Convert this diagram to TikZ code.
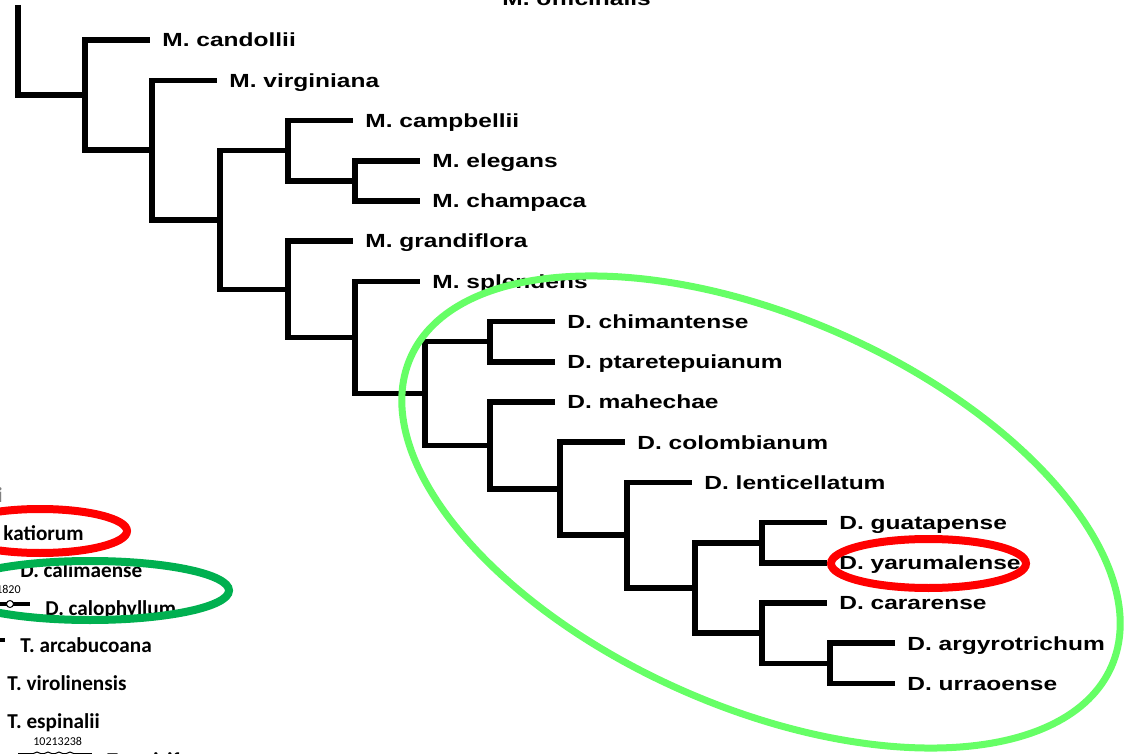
\documentclass[tikz,border=0pt]{standalone}
\usepackage{fontspec}
\newfontfamily\taxfont[FakeStretch=1.29]{Liberation Sans}
\newfontfamily\calfont{Carlito}
\usepackage{tikz}
\usetikzlibrary{positioning}
\definecolor{cladegreen}{HTML}{66FF66}
\definecolor{ovalgreen}{HTML}{00B050}

\begin{document}
\begin{tikzpicture}[
    x=0.5pt, y=-0.5pt,
    branch/.style={
		line width=2.8pt,
		draw=black
	},
    taxon/.style={
		anchor=west,
		inner sep=0pt,
		text height=6.8pt,
		text depth=0pt,
		font=\taxfont\bfseries\fontsize{9.5}{11}\selectfont
	},
    oldtaxon/.style={
		anchor=base west,
		inner sep=0pt,
		font=\calfont\bfseries\fontsize{10.6}{12}\selectfont
	},
    support/.style={
		inner sep=0pt,
		font=\calfont\fontsize{6}{7}\selectfont
	},
    oldbranch/.style={
		line width=2pt,
		draw=black
	},
    tick/.style={
		circle,
		draw=black,
		fill=white,
		line width=0.5pt,
		inner sep=0pt,
		minimum size=3.5pt
	},
    ring/.style={
		line width=4pt
	}
  ]
  \useasboundingbox (0,0) rectangle (1130,754);
  \clip (0,0) rectangle (1130,754);

  % We start by placing the inner nodes of the tree
  \coordinate (rootTop) at (18,5);
  \coordinate (nA) at (85,95.1);
  \coordinate (nB) at (152,150.2);
  \coordinate (nC) at (220,220);
  \coordinate (nCam) at (288,150.7);
  \coordinate (nEle) at (355,180.9);
  \coordinate (nGra) at (288,289.4);
  \coordinate (nSpl) at (355,337.5);
  \coordinate (nD) at (425,393.5);
  \coordinate (nChi) at (490,341.7);
  \coordinate (nMah) at (490,445.3);
  \coordinate (nCol) at (560,488.7);
  \coordinate (nLen) at (627,535.2);
  \coordinate (nG) at (695,587.9);
  \coordinate (nGua) at (762,542.7);
  \coordinate (nCar) at (762,633.1);
  \coordinate (nArg) at (830,663.3);

  % the leaves
  \node [taxon] (officinalis) at (502,-1) {M. officinalis};
  \begin{scope}
  \clip (0,0) rectangle (1106,754);
  \node [taxon] (candollii) at (162,40.2) {M. candollii};
  \node [taxon] (virginiana) at (229,80.4) {M. virginiana};
  \node [taxon] (campbellii) at (365,120.6) {M. campbellii};
  \node [taxon] (elegans) at (432,160.8) {M. elegans};
  \node [taxon] (champaca) at (432,201) {M. champaca};
  \node [taxon] (grandiflora) at (365,241.2) {M. grandiflora};
  \node [taxon] (splendens) at (432,281.4) {M. splendens};
  \node [taxon] (chimantense) at (567,321.6) {D. chimantense};
  \node [taxon] (ptaretepuianum) at (567,361.8) {D. ptaretepuianum};
  \node [taxon] (mahechae) at (567,402) {D. mahechae};
  \node [taxon] (colombianum) at (637,442.2) {D. colombianum};
  \node [taxon] (lenticellatum) at (704,482.4) {D. lenticellatum};
  \node [taxon] (guatapense) at (839,522.6) {D. guatapense};
  \node [taxon] (yarumalense) at (839,562.8) {D. yarumalense};
  \node [taxon] (cararense) at (839,603) {D. cararense};
  \node [taxon] (argyrotrichum) at (907,643.2) {D. argyrotrichum};
  \node [taxon] (urraoense) at (907,683.4) {D. urraoense};
  \end{scope}

  \draw [branch] (rootTop) |- (nA);
  \draw [branch] (nA) |- ([xshift=-6pt]candollii.west);
  \draw [branch] (nA) |- (nB);
  \draw [branch] (nB) |- ([xshift=-6pt]virginiana.west);
  \draw [branch] (nB) |- (nC);
  \draw [branch] (nC) |- (nCam);
  \draw [branch] (nC) |- (nGra);
  \draw [branch] (nCam) |- ([xshift=-6pt]campbellii.west);
  \draw [branch] (nCam) |- (nEle);
  \draw [branch] (nEle) |- ([xshift=-6pt]elegans.west);
  \draw [branch] (nEle) |- ([xshift=-6pt]champaca.west);
  \draw [branch] (nGra) |- ([xshift=-6pt]grandiflora.west);
  \draw [branch] (nGra) |- (nSpl);
  \draw [branch] (nSpl) |- ([xshift=-6pt]splendens.west);
  \draw [branch] (nSpl) |- (nD);
  \draw [branch] (nD) |- (nChi);
  \draw [branch] (nD) |- (nMah);
  \draw [branch] (nChi) |- ([xshift=-6pt]chimantense.west);
  \draw [branch] (nChi) |- ([xshift=-6pt]ptaretepuianum.west);
  \draw [branch] (nMah) |- ([xshift=-6pt]mahechae.west);
  \draw [branch] (nMah) |- (nCol);
  \draw [branch] (nCol) |- ([xshift=-6pt]colombianum.west);
  \draw [branch] (nCol) |- (nLen);
  \draw [branch] (nLen) |- ([xshift=-6pt]lenticellatum.west);
  \draw [branch] (nLen) |- (nG);
  \draw [branch] (nG) |- (nGua);
  \draw [branch] (nG) |- (nCar);
  \draw [branch] (nGua) |- ([xshift=-6pt]guatapense.west);
  \draw [branch] (nGua) |- ([xshift=-6pt]yarumalense.west);
  \draw [branch] (nCar) |- ([xshift=-6pt]cararense.west);
  \draw [branch] (nCar) |- (nArg);
  \draw [branch] (nArg) |- ([xshift=-6pt]argyrotrichum.west);
  \draw [branch] (nArg) |- ([xshift=-6pt]urraoense.west);

  % the pasted piece of the other tree
  \node [oldtaxon, anchor=base east, text=gray] (cutname) at (3,502) {i};
  \node [oldtaxon] (katiorum) at (3,540) {katiorum};
  \node [oldtaxon] (calimaense) at (20,577) {D. calimaense};
  \node [oldtaxon] (calophyllum) at (45,615) {D. calophyllum};
  \node [oldtaxon] (arcabucoana) at (20,652) {T. arcabucoana};
  \node [oldtaxon] (virolinensis) at (7,690) {T. virolinensis};
  \node [oldtaxon] (espinalii) at (7,728) {T. espinalii};
  \node [oldtaxon] (caricifragrans) at (107,767) {T. caricifragrans};
  \node [support, anchor=base east] (bs1820) at (21,593) {1820};
  \node [support, anchor=base west] (bs1021) at (33,745) {10213238};

  \coordinate (calA) at (-5,604);
  \coordinate (calB) at (30,604);
  \draw [oldbranch] (calA) -- (calB);
  \node [tick] (calTick) at (10,604) {};
  \coordinate (arcA) at (-5,640);
  \coordinate (arcB) at (5,640);
  \draw [oldbranch] (arcA) -- (arcB);
  \coordinate (bottomA) at (18,755);
  \coordinate (bottomB) at (92,755);
  \draw [oldbranch] (bottomA) -- (bottomB);
  \foreach \cx in {37,48,59,70}
    \node [tick, minimum size=5pt] at (\cx,757) {};

  % the rings
  \draw [ovalgreen, ring] (90,590.5) ellipse [x radius=139, y radius=29.5];
  \draw [red, ring] (40,531) ellipse [x radius=87, y radius=22];
  \draw [cladegreen, line width=3.5pt, rotate around={-23.8:(761,512)}] (761,512) ellipse [x radius=383, y radius=195];
  \draw [red, ring] (928.5,563.5) ellipse [x radius=97.5, y radius=24.5];

\end{tikzpicture}
\end{document}
